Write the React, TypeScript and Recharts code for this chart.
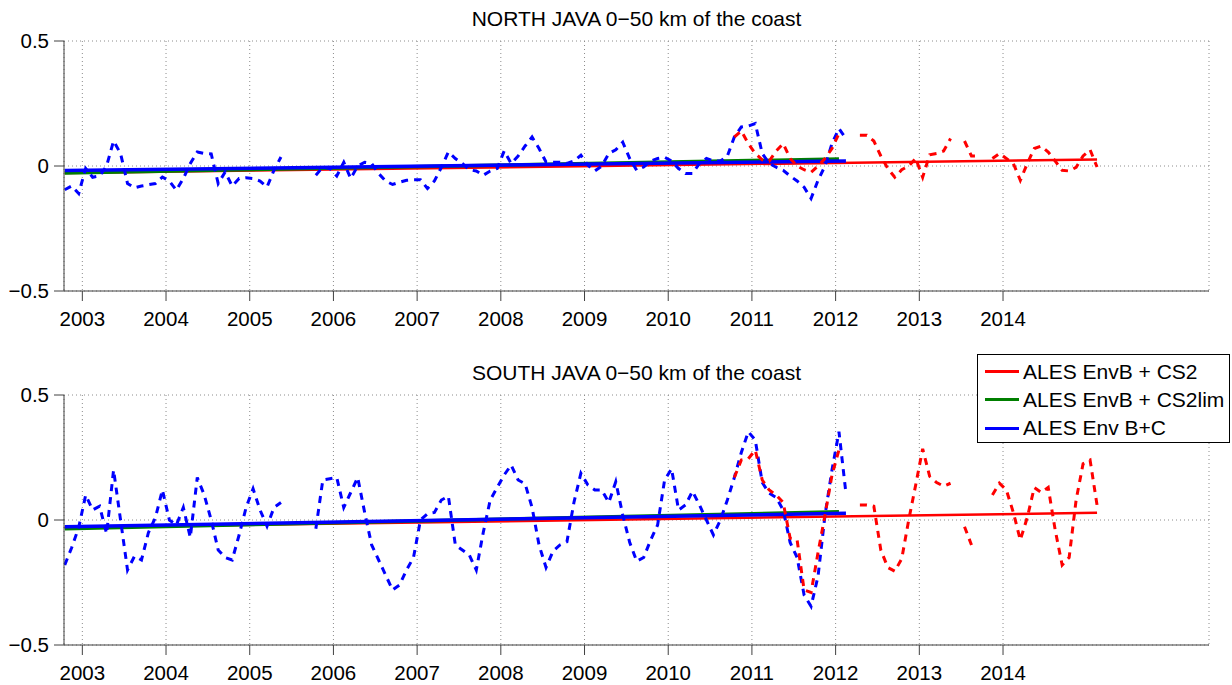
import { CartesianGrid, Line, LineChart, XAxis, YAxis } from "recharts";

const FONT = '"Liberation Sans", Arial, Helvetica, sans-serif';
const RED = "#ff0000";
const GREEN = "#007f00";
const BLUE = "#0000ff";
const AXIS = "#404040";

// monthly samples, first one is mid-October 2002
const FIRST_MONTH = 2002.79;
const X_DOMAIN: [number, number] = [2002.781, 2016.461];
const YEAR_TICKS = [2003, 2004, 2005, 2006, 2007, 2008, 2009, 2010, 2011, 2012, 2013, 2014];
const Y_TICKS = [-0.5, 0, 0.5];

// CS2 dashed series start at month index 96 (Oct 2010)
const CS2_START = 96;

const NORTH_ENVBC = [
  -0.095, -0.08, -0.11, -0.01, -0.045, -0.04, 0.0, 0.1, 0.05, -0.07,
  -0.087, -0.08, -0.075, -0.07, -0.044, -0.06, -0.097, -0.05, 0.01, 0.056,
  0.05, 0.048, -0.07, -0.024, -0.08, -0.05, -0.047, -0.05, -0.06, -0.084,
  -0.017, 0.036, null, null, null, null, -0.037, -0.004, -0.01, -0.04,
  0.015, -0.05, 0.0, 0.015, 0.01, -0.03, -0.06, -0.074, -0.065, -0.057,
  -0.055, -0.055, -0.09, -0.06, -0.005, 0.056, 0.03, 0.01, -0.015, -0.02,
  -0.037, -0.02, -0.01, 0.06, 0.01, 0.04, 0.08, 0.116, 0.07, 0.016,
  0.015, 0.015, 0.01, 0.02, 0.043, 0.003, -0.02, 0.0, 0.05, 0.065,
  0.095, 0.03, -0.017, -0.004, 0.02, 0.03, 0.035, 0.02, -0.01, -0.03,
  -0.03, 0.01, 0.03, 0.02, 0.02, 0.04, 0.116, 0.156, 0.16, 0.17,
  0.05, 0.01, -0.005, -0.017, -0.04, -0.06, -0.085, -0.13, -0.057, 0.0,
  0.09, 0.15, 0.11,
];

const NORTH_CS2 = [
  0.116, 0.14, 0.09, 0.05, 0.025, 0.02, 0.06, 0.09, 0.03, 0.0,
  -0.015, -0.025, 0.0, 0.03, 0.07, 0.13, null, null, 0.123, 0.123,
  0.1, 0.04, -0.01, -0.045, -0.015, 0.0, 0.03, -0.045, 0.045, 0.05,
  0.06, 0.11, null, 0.1, 0.04, 0.04, null, 0.03, 0.05, 0.03,
  0.01, -0.057, 0.01, 0.07, 0.08, 0.056, 0.02, -0.017, -0.02, -0.005,
  0.04, 0.065, -0.004,
];

const SOUTH_ENVBC = [
  -0.18, -0.11, -0.03, 0.1, 0.04, 0.055, -0.055, 0.2, 0.0, -0.2,
  -0.145, -0.16, -0.05, 0.01, 0.12, 0.0, -0.02, 0.05, -0.07, 0.17,
  0.1, 0.0, -0.12, -0.15, -0.16, -0.06, 0.05, 0.125, 0.04, -0.025,
  0.05, 0.07, null, null, null, null, -0.035, 0.16, 0.165, 0.17,
  0.05, 0.11, 0.17, 0.03, -0.1, -0.16, -0.22, -0.28, -0.26, -0.2,
  -0.15, 0.0, 0.025, 0.03, 0.08, 0.095, -0.1, -0.12, -0.14, -0.2,
  -0.05, 0.08, 0.13, 0.18, 0.22, 0.16, 0.145, 0.05, -0.1, -0.19,
  -0.125, -0.1, -0.087, 0.07, 0.187, 0.14, 0.12, 0.12, 0.07, 0.153,
  0.02, -0.09, -0.165, -0.15, -0.08, -0.02, 0.16, 0.205, 0.04, 0.06,
  0.115, 0.06, 0.0, -0.06, 0.0, 0.08, 0.17, 0.27, 0.353, 0.32,
  0.15, 0.107, 0.09, 0.04, -0.09, -0.15, -0.3, -0.345, -0.225, 0.02,
  0.2, 0.353, 0.107,
];

const SOUTH_CS2 = [
  0.17, 0.24, 0.245, 0.28, 0.16, 0.12, 0.1, 0.07, -0.073, -0.08,
  -0.28, -0.29, -0.13, 0.02, 0.18, 0.28, null, null, 0.06, 0.06,
  0.055, -0.12, -0.19, -0.205, -0.155, 0.0, 0.14, 0.285, 0.175, 0.15,
  0.135, 0.147, null, -0.027, -0.1, null, null, 0.1, 0.147, 0.12,
  0.03, -0.08, 0.01, 0.13, 0.11, 0.13, -0.04, -0.18, -0.15, 0.08,
  0.225, 0.24, 0.06,
];

// linear trends: [value at first month, value at last month]
const NORTH_TREND_CS2 = [-0.028, 0.026];
const NORTH_TREND_CS2LIM = [-0.028, 0.028];
const NORTH_TREND_ENVBC = [-0.018, 0.02];
const SOUTH_TREND_CS2 = [-0.03, 0.029];
const SOUTH_TREND_CS2LIM = [-0.035, 0.033];
const SOUTH_TREND_ENVBC = [-0.027, 0.027];
const TREND_END = { cs2: 148, cs2lim: 111, envbc: 112 };

const LEGEND = [
  { name: "ALES EnvB + CS2", color: RED },
  { name: "ALES EnvB + CS2lim", color: GREEN },
  { name: "ALES Env B+C", color: BLUE },
];

type Pt = { t: number; v: number | null };

const toSeries = (values: (number | null)[], start: number): Pt[] =>
  values.map((v, i) => ({ t: FIRST_MONTH + (start + i) / 12, v }));

const trend = (ends: number[], last: number): Pt[] => [
  { t: FIRST_MONTH, v: ends[0] },
  { t: FIRST_MONTH + last / 12, v: ends[1] },
];

const fmtY = (v: number) => (v < 0 ? "\u2212" + String(-v) : String(v));

interface PanelProps {
  title: string;
  top: number;
  envbc: (number | null)[];
  cs2: (number | null)[];
  trends: number[][];
}

function Panel({ title, top, envbc, cs2, trends }: PanelProps) {
  const tick = { fill: "#000", fontSize: 20.5, fontFamily: FONT };
  return (
    <div style={{ position: "absolute", left: 0, top, width: 1232, height: 330 }}>
      <div
        style={{
          position: "absolute",
          left: 64,
          width: 1145,
          top: 8,
          textAlign: "center",
          fontFamily: FONT,
          fontSize: 21,
          lineHeight: "21px",
          color: "#000",
        }}
      >
        {title}
      </div>
      <LineChart
        width={1232}
        height={330}
        margin={{ top: 41, right: 23, bottom: 9, left: 0 }}
        style={{ fontFamily: FONT }}
      >
        <CartesianGrid stroke="#8c8c8c" strokeDasharray="1 3" />
        <XAxis
          dataKey="t"
          type="number"
          domain={X_DOMAIN}
          allowDataOverflow
          ticks={YEAR_TICKS}
          interval={0}
          height={30}
          tickSize={10}
          tickMargin={10}
          tick={tick}
          stroke={AXIS}
          tickFormatter={(v: number) => String(v)}
        />
        <YAxis
          type="number"
          domain={[-0.5, 0.5]}
          ticks={Y_TICKS}
          interval={0}
          width={64}
          tickSize={10}
          tickMargin={5}
          tick={tick}
          stroke={AXIS}
          tickFormatter={fmtY}
        />
        <Line data={trend(trends[0], TREND_END.cs2)} dataKey="v" stroke={RED} strokeWidth={2.5} dot={false} activeDot={false} isAnimationActive={false} />
        <Line data={trend(trends[1], TREND_END.cs2lim)} dataKey="v" stroke={GREEN} strokeWidth={3.5} dot={false} activeDot={false} isAnimationActive={false} />
        <Line data={trend(trends[2], TREND_END.envbc)} dataKey="v" stroke={BLUE} strokeWidth={3.5} dot={false} activeDot={false} isAnimationActive={false} />
        <Line data={toSeries(envbc, 0)} dataKey="v" stroke={BLUE} strokeWidth={3} strokeDasharray="7 6" dot={false} activeDot={false} isAnimationActive={false} />
        <Line data={toSeries(cs2, CS2_START)} dataKey="v" stroke={RED} strokeWidth={3} strokeDasharray="7 6" dot={false} activeDot={false} isAnimationActive={false} />
      </LineChart>
    </div>
  );
}

export default function App() {
  return (
    <div style={{ position: "absolute", left: 0, top: 0, width: 1232, height: 685, background: "#fff" }}>
      <Panel
        title="NORTH JAVA 0−50 km of the coast"
        top={0}
        envbc={NORTH_ENVBC}
        cs2={NORTH_CS2}
        trends={[NORTH_TREND_CS2, NORTH_TREND_CS2LIM, NORTH_TREND_ENVBC]}
      />
      <Panel
        title="SOUTH JAVA 0−50 km of the coast"
        top={354}
        envbc={SOUTH_ENVBC}
        cs2={SOUTH_CS2}
        trends={[SOUTH_TREND_CS2, SOUTH_TREND_CS2LIM, SOUTH_TREND_ENVBC]}
      />
      <div
        style={{
          position: "absolute",
          left: 977,
          top: 354,
          width: 251,
          height: 87,
          border: "1px solid #000",
          background: "#fff",
          fontFamily: FONT,
          fontSize: 21,
        }}
      >
        {LEGEND.map((item, i) => (
          <div
            key={item.name}
            style={{ position: "absolute", left: 0, top: 2.5 + i * 28.3, height: 28, display: "flex", alignItems: "center" }}
          >
            <div style={{ marginLeft: 7, width: 34, height: 3, background: item.color }} />
            <span style={{ marginLeft: 4, whiteSpace: "nowrap" }}>{item.name}</span>
          </div>
        ))}
      </div>
    </div>
  );
}
